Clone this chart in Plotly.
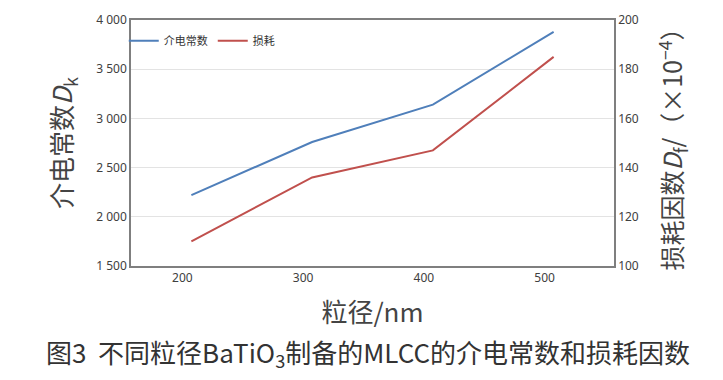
import plotly.graph_objects as go

size_nm = [200, 300, 400, 500]
dielectric = [2220, 2760, 3140, 3880]
loss = [110, 136, 147, 185]
x_ticks = [200, 300, 400, 500]
left_ticks = [1500, 2000, 2500, 3000, 3500, 4000]
right_ticks = [100, 120, 140, 160, 180, 200]

CJK = "Noto Sans CJK SC, Noto Sans, sans-serif"
TICKF = dict(family="Noto Sans, Noto Sans CJK SC, sans-serif", size=12, color="#404040")
TITLEF = dict(family=CJK, size=26, color="#444444")
AXIS_COL = "#7f7f7f"

fig = go.Figure()
fig.add_trace(go.Scatter(x=size_nm, y=dielectric, mode="lines", name="介电常数",
                         line=dict(color="#4F7FBA", width=2)))
fig.add_trace(go.Scatter(x=size_nm, y=loss, mode="lines", name="损耗",
                         line=dict(color="#C0504D", width=2), yaxis="y2"))

fig.update_layout(
    width=715, height=372,
    margin=dict(l=123, r=109, t=12, b=114, autoexpand=False),
    paper_bgcolor="white", plot_bgcolor="white",
    separators=". ",
    showlegend=True,
    legend=dict(x=-0.015, y=0.975, xanchor="left", yanchor="top", orientation="h",
                font=dict(family=CJK, size=11, color="#333"), bgcolor="rgba(0,0,0,0)",
                itemwidth=30, tracegroupgap=0),
    xaxis=dict(range=[150, 550], tickvals=x_ticks, ticks="", ticklabelshift=-9,
               tickfont=TICKF, showgrid=False, zeroline=False, automargin=False,
               showline=True, linecolor=AXIS_COL, linewidth=1.5, mirror=True,
               title=dict(text="粒径/nm", font=TITLEF, standoff=19)),
    yaxis=dict(range=[1500, 4000], tickvals=left_ticks, tickformat=",d", ticks="",
               tickfont=TICKF, showgrid=True, gridcolor="#e3e3e3", gridwidth=1, zeroline=False,
               showline=True, linecolor=AXIS_COL, linewidth=1.5, automargin=False,
               title=dict(text="介电常数<i>D</i><sub>k</sub>", font=TITLEF, standoff=16)),
    yaxis2=dict(range=[100, 200], tickvals=right_ticks, overlaying="y", side="right", ticks="",
                tickfont=TICKF, showgrid=False, zeroline=False, automargin=False,
                showline=True, linecolor=AXIS_COL, linewidth=1.5,
                title=dict(text="损耗因数<i>D</i><sub>f</sub>/（×10<sup>−4</sup>）",
                           font=dict(family=CJK, size=25, color="#444444"), standoff=27)),
)

fig.add_annotation(text="图3  不同粒径BaTiO<sub>3</sub>制备的MLCC的介电常数和损耗因数",
                   xref="paper", yref="paper", x=0.49, y=-0.355, xanchor="center", yanchor="middle",
                   showarrow=False, font=dict(family=CJK, size=26, color="#333333"))

fig.write_html("out.html")
